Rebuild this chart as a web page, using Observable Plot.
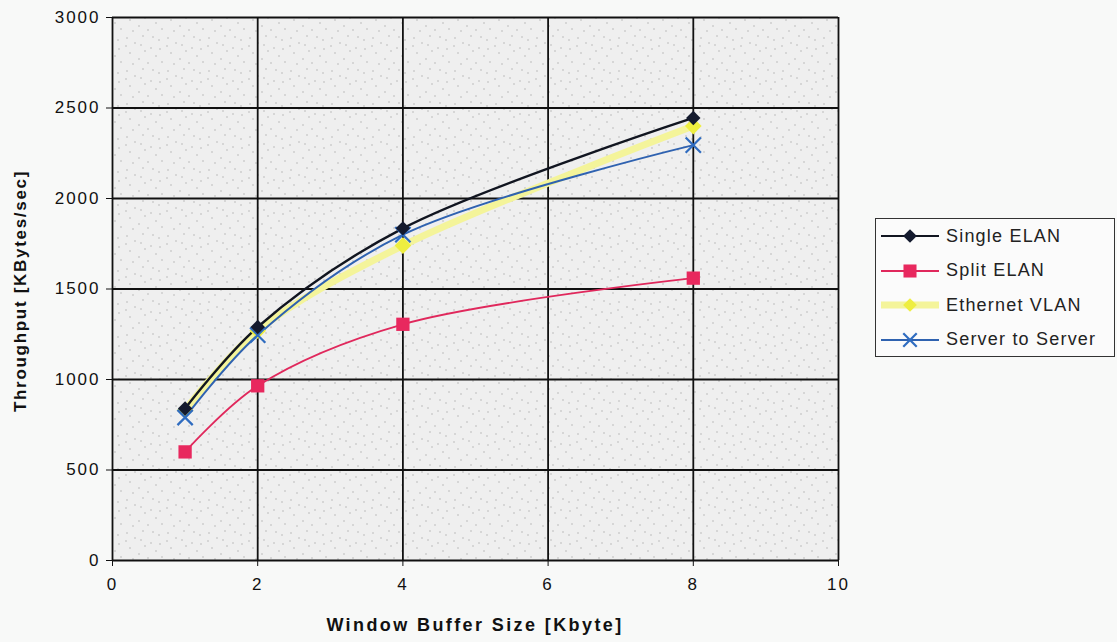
<!DOCTYPE html>
<html><head><meta charset="utf-8">
<script src="https://cdn.jsdelivr.net/npm/d3@7"></script>
<script src="https://cdn.jsdelivr.net/npm/@observablehq/plot@0.6"></script>
<style>
body{margin:0;background:#f8f9f8;font-family:"Liberation Sans",Arial,sans-serif;}
#wrap{position:relative;width:1117px;height:642px;}
#legend{position:absolute;left:875px;top:218px;width:240px;height:139px;border:1.5px solid #333;background:#fbfbfb;box-sizing:border-box;padding:0 0 0 5px;}
.row{display:flex;align-items:center;height:34.5px;font-size:18px;color:#222;letter-spacing:1.2px;}
.row svg{margin-right:5px;}
</style></head><body>
<div id="wrap"><div id="chart"></div><div id="legend"></div></div>
<script>
const xValues = [1, 2, 4, 8];
const seriesNames = ["Single ELAN", "Split ELAN", "Ethernet VLAN", "Server to Server"];
const singleELAN = [840, 1290, 1835, 2445];
const splitELAN = [600, 965, 1305, 1560];
const ethernetVLAN = [830, 1270, 1740, 2400];
const serverToServer = [790, 1245, 1800, 2295];
const xTicks = [0, 2, 4, 6, 8, 10];
const yTicks = [0, 500, 1000, 1500, 2000, 2500, 3000];

const colors = {"Single ELAN":"#111520","Split ELAN":"#e0285c","Ethernet VLAN":"#f4f49a","Server to Server":"#2f62b0"};
const widths = {"Single ELAN":2.4,"Split ELAN":1.8,"Ethernet VLAN":7,"Server to Server":2};
const allVals = [singleELAN, splitELAN, ethernetVLAN, serverToServer];
const data = [];
seriesNames.forEach((s,i)=>xValues.forEach((x,j)=>data.push({series:s,x,y:allVals[i][j]})));
const sub = s => data.filter(d=>d.series===s);

const marks = [
  Plot.frame({fill:"url(#stipple)", stroke:"none"}),
  Plot.gridX(xTicks, {stroke:"#111", strokeOpacity:1, strokeWidth:1.8}),
  Plot.gridY(yTicks, {stroke:"#111", strokeOpacity:1, strokeWidth:1.8}),
  Plot.axisX(xTicks, {tickSize:6, tickPadding:11, fontSize:17, stroke:"#111", label:null, tickFormat:"d"}),
  Plot.axisY(yTicks, {tickSize:6, tickPadding:6, fontSize:17, stroke:"#111", label:null, tickFormat:"d"}),
];
["Ethernet VLAN","Split ELAN","Server to Server","Single ELAN"].forEach(s=>{
  marks.push(Plot.line(sub(s), {x:"x", y:"y", stroke:colors[s], strokeWidth:widths[s], curve:"catmull-rom"}));
});
marks.push(Plot.dot(sub("Ethernet VLAN"), {x:"x", y:"y", symbol:"diamond2", r:7.5, fill:"#eeee40", stroke:"none"}));
marks.push(Plot.dot(sub("Split ELAN"), {x:"x", y:"y", symbol:"square", r:7.5, fill:"#e8285e", stroke:"none"}));
marks.push(Plot.dot(sub("Server to Server"), {x:"x", y:"y", symbol:"times", r:7, stroke:"#2f6cc0", strokeWidth:2.2}));
marks.push(Plot.dot(sub("Single ELAN"), {x:"x", y:"y", symbol:"diamond2", r:6.5, fill:"#141a2e", stroke:"none"}));

const chart = Plot.plot({
  width:1117, height:642,
  marginLeft:112, marginRight:279, marginTop:17, marginBottom:82,
  style:{background:"transparent", fontFamily:"Liberation Sans, Arial, sans-serif", color:"#111", letterSpacing:"2px"},
  x:{domain:[0,10]},
  y:{domain:[0,3000]},
  marks
});
document.getElementById("chart").appendChild(chart);

const svg = d3.select(chart);
const defs = svg.insert("defs", ":first-child");
const pat = defs.append("pattern").attr("id","stipple").attr("patternUnits","userSpaceOnUse").attr("width",41).attr("height",33);
pat.append("rect").attr("width",41).attr("height",33).attr("fill","#efefef");
const dots = [[3,4],[11,9],[19,2],[27,14],[35,6],[6,19],[15,25],[24,29],[32,22],[38,28],[9,30],[21,17],[29,3],[2,12],[17,11],[36,15]];
dots.forEach(([x,y])=>pat.append("rect").attr("x",x).attr("y",y).attr("width",1).attr("height",1).attr("fill","#8a8a8a"));

svg.append("text").attr("x",475).attr("y",631).attr("text-anchor","middle")
  .attr("font-size",18).attr("font-weight","bold").attr("letter-spacing","2.4px").attr("fill","#111")
  .text("Window Buffer Size [Kbyte]");
svg.append("text").attr("transform","translate(26,291) rotate(-90)").attr("text-anchor","middle")
  .attr("font-size",17).attr("font-weight","bold").attr("letter-spacing","1.7px").attr("fill","#111")
  .text("Throughput [KBytes/sec]");

const lg = d3.select("#legend");
seriesNames.forEach(s=>{
  const row = lg.append("div").attr("class","row");
  const sv = row.append("svg").attr("width",60).attr("height",20);
  sv.append("line").attr("x1",0).attr("x2",58).attr("y1",10).attr("y2",10).attr("stroke",colors[s]).attr("stroke-width",s==="Ethernet VLAN"?7:2);
  const sym = {"Single ELAN":d3.symbolDiamond2,"Split ELAN":d3.symbolSquare,"Ethernet VLAN":d3.symbolDiamond2,"Server to Server":d3.symbolTimes}[s];
  const p = sv.append("path").attr("transform","translate(29,10)").attr("d",d3.symbol(sym, s==="Split ELAN"?170:120)());
  if(s==="Server to Server") p.attr("fill","none").attr("stroke","#2f6cc0").attr("stroke-width",2.2);
  else p.attr("fill", s==="Split ELAN"?"#e8285e":(s==="Ethernet VLAN"?"#eeee40":"#141a2e"));
  row.append("span").text(s);
});
</script></body></html>
